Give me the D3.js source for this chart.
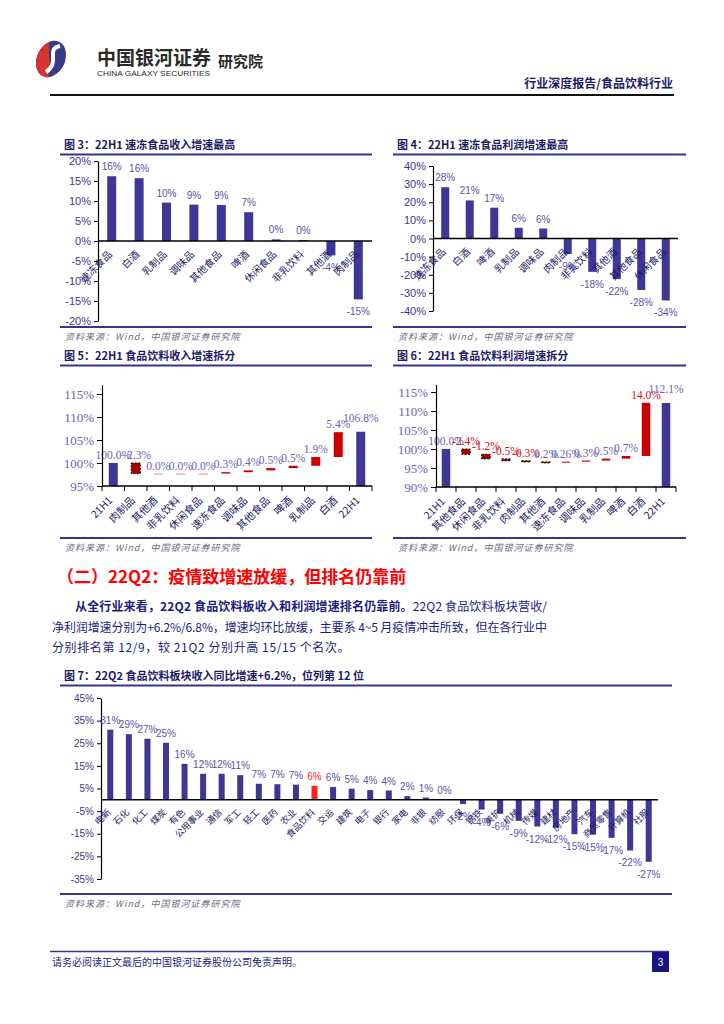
<!DOCTYPE html>
<html><head><meta charset="utf-8">
<script src="https://cdn.jsdelivr.net/npm/d3@7"></script>
<style>body{margin:0;background:#fff}svg{display:block}</style>
</head><body>
<svg id="c" width="724" height="1024"></svg>
<script>
// ---------- DATA ----------
const fig3Cats = ["速冻食品","白酒","乳制品","调味品","其他食品","啤酒","休闲食品","非乳饮料","其他酒","肉制品"];
const fig3Vals = [16.2, 15.7, 9.6, 9.1, 9.0, 7.2, 0.4, 0.2, -3.6, -14.6];
const fig3Ticks = [-20, -15, -10, -5, 0, 5, 10, 15, 20];

const fig4Cats = ["速冻食品","白酒","啤酒","乳制品","调味品","肉制品","非乳饮料","其他酒","其他食品","休闲食品"];
const fig4Vals = [28.3, 21.0, 17.0, 5.9, 5.5, -8.6, -18.4, -22.4, -28.4, -34.2];
const fig4Ticks = [-40, -30, -20, -10, 0, 10, 20, 30, 40];

const fig5Cats = ["21H1","肉制品","其他酒","非乳饮料","休闲食品","速冻食品","调味品","其他食品","啤酒","乳制品","白酒","22H1"];
const fig5Start = 100.0;
const fig5Deltas = [-2.3, 0.0, 0.0, 0.0, 0.3, 0.4, 0.5, 0.5, 1.9, 5.4];
const fig5End = 106.8;
const fig5Ticks = [95, 100, 105, 110, 115];

const fig6Cats = ["21H1","其他食品","休闲食品","非乳饮料","肉制品","其他酒","速冻食品","调味品","乳制品","啤酒","白酒","22H1"];
const fig6Start = 100.0;
const fig6Deltas = [-1.4, -1.2, -0.5, -0.3, -0.2, 0.26, 0.3, 0.5, 0.7, 14.0];
const fig6DeltaLabels = ["-2.4%","-1.2%","-0.5%","-0.3%","0.2%","0.26%","0.3%","0.5%","0.7%","14.0%"];
const fig6End = 112.1;
const fig6Ticks = [90, 95, 100, 105, 110, 115];

const fig7Cats = ["电新","石化","化工","煤炭","有色","公用事业","通信","军工","轻工","医药","农业","食品饮料","交运","建筑","电子","银行","家电","非银","纺服","环保","钢铁","美护","机械","传媒","建材","房地产","汽车","商贸零售","计算机","社服"];
const fig7Vals = [31.0, 29.0, 27.0, 25.2, 15.9, 11.5, 11.5, 10.9, 7.1, 6.9, 6.7, 6.2, 5.7, 4.9, 4.3, 4.1, 1.6, 1.0, 0.1, -1.9, -4.3, -6.2, -9.3, -11.8, -12.2, -15.2, -15.4, -16.8, -22.4, -27.4];
const fig7Ticks = [-35, -25, -15, -5, 5, 15, 25, 35, 45];
const fig7Highlight = "食品饮料";

// ---------- STYLE ----------
const svg = d3.select("#c");
const F_CJK = "'Noto Sans CJK SC','Noto Sans',sans-serif";
const F_SANS = "'Liberation Sans',Arial,sans-serif";
const F_SERIF = "'Liberation Serif','Times New Roman',serif";
const BAR = "#3f3695";
const RULE = "#38338f";
const LAV = "#5a52a8";
const NAVY = "#1d1a68";
const RED = "#cc0000";

// ---------- HEADER ----------
const defs = svg.append("defs");
defs.append("clipPath").attr("id","logoClip").append("ellipse")
  .attr("cx",0).attr("cy",0).attr("rx",14).attr("ry",19).attr("transform","rotate(25)");
const logo = svg.append("g").attr("transform","translate(51,59)");
const lg = logo.append("g").attr("clip-path","url(#logoClip)");
lg.append("rect").attr("x",-25).attr("y",-25).attr("width",50).attr("height",50).attr("fill","#3b3a8a");
lg.append("path").attr("d","M-25,-25 L4,-25 C-10,-12 6,4 -6,25 L-25,25 Z").attr("fill","#d6352d");
lg.append("path").attr("d","M9,-13 C-6,-10 10,3 -5,13").attr("fill","none").attr("stroke","#fff").attr("stroke-width",4);
svg.append("text").attr("x",97).attr("y",65).text("中国银河证券")
  .attr("font-family",F_CJK).attr("font-size",19).attr("font-weight",700).attr("fill","#2a2a2a")
  .attr("textLength",114).attr("lengthAdjust","spacingAndGlyphs");
svg.append("text").attr("x",97).attr("y",76).text("CHINA GALAXY SECURITIES")
  .attr("font-family",F_SANS).attr("font-size",8).attr("fill","#2a2a2a")
  .attr("textLength",113).attr("lengthAdjust","spacingAndGlyphs");
svg.append("text").attr("x",218).attr("y",67).text("研究院")
  .attr("font-family",F_CJK).attr("font-size",15).attr("font-weight",700).attr("fill","#2a2a2a");
svg.append("text").attr("x",673).attr("y",88).attr("text-anchor","end").text("行业深度报告/食品饮料行业")
  .attr("font-family",F_CJK).attr("font-size",12).attr("font-weight",700).attr("fill",NAVY);
svg.append("line").attr("x1",50).attr("x2",674).attr("y1",95).attr("y2",95).attr("stroke","#111").attr("stroke-width",2);

// ---------- FRAME HELPER ----------
function frame(x0, x1, titleY, title, bottomY) {
  svg.append("text").attr("x",x0+4).attr("y",titleY).text(title)
    .attr("font-family",F_CJK).attr("font-size",11).attr("font-weight",700).attr("fill",NAVY);
  svg.append("line").attr("x1",x0).attr("x2",x1).attr("y1",titleY+5.5).attr("y2",titleY+5.5)
    .attr("stroke",RULE).attr("stroke-width",2);
  svg.append("line").attr("x1",x0).attr("x2",x1).attr("y1",bottomY).attr("y2",bottomY)
    .attr("stroke",RULE).attr("stroke-width",2);
  svg.append("text").attr("x",x0+5).attr("y",bottomY+13).text("资料来源：Wind，中国银河证券研究院")
    .attr("font-family",F_CJK).attr("font-size",9).attr("font-style","italic").attr("fill","#6a6a80")
    .attr("letter-spacing",1);
}

function styleAxis(g, font, size, color) {
  g.select(".domain").attr("stroke","#000").attr("stroke-width",1.2);
  g.selectAll(".tick line").attr("stroke","#000");
  g.selectAll(".tick text").attr("font-family",font).attr("font-size",size).attr("fill",color);
}

// ---------- BAR CHART ----------
function barChart(o) {
  const x = d3.scaleBand().domain(o.cats).range([o.axisX, o.xEnd]);
  const step = (o.xEnd - o.axisX) / o.cats.length;
  const p = 1 - o.bw / step;
  x.paddingInner(p).paddingOuter(p/2);
  const y = d3.scaleLinear().domain(o.domain).range([o.yBot, o.yTop]);
  const ax = svg.append("g").attr("transform",`translate(${o.axisX},0)`)
    .call(d3.axisLeft(y).tickValues(o.ticks).tickSize(4).tickSizeOuter(0).tickPadding(3).tickFormat(d => d + "%"));
  styleAxis(ax, F_SANS, o.tickSize, o.tickColor);
  const y0 = y(0);
  o.cats.forEach((c, i) => {
    const v = o.vals[i];
    const isHi = o.highlight && c === o.highlight;
    svg.append("rect").attr("x",x(c)).attr("width",x.bandwidth())
      .attr("y",Math.min(y(v),y0)).attr("height",Math.abs(y(v)-y0))
      .attr("fill", isHi ? "#ff2020" : BAR);
    const cx = x(c) + x.bandwidth()/2;
    svg.append("text").attr("x",cx).attr("y", v >= 0 ? y(v) - o.labelGap : y(v) + o.labelGap + o.valSize)
      .attr("text-anchor","middle").text(Math.round(v) + "%")
      .attr("font-family",F_SANS).attr("font-size",o.valSize).attr("fill", isHi ? "#ff2020" : LAV);
    svg.append("text").attr("transform",`translate(${cx + o.catDx},${y0 + o.catDy}) rotate(-45)`)
      .attr("text-anchor","end").text(c)
      .attr("font-family",F_CJK).attr("font-size",o.catSize).attr("fill",NAVY);
  });
  svg.append("line").attr("x1",o.axisX).attr("x2",o.xEnd).attr("y1",y0).attr("y2",y0)
    .attr("stroke","#000").attr("stroke-width",1.5);
}

// ---------- WATERFALL ----------
function waterfall(o) {
  const x = d3.scaleBand().domain(o.cats).range([o.axisX, o.xEnd]);
  const step = (o.xEnd - o.axisX) / o.cats.length;
  const p = 1 - o.bw / step;
  x.paddingInner(p).paddingOuter(p/2);
  const y = d3.scaleLinear().domain(o.domain).range([o.yBot, o.yTop]);
  const base = o.domain[0];
  const segs = [];
  segs.push({c:o.cats[0], lo:base, hi:o.start, type:"total", label: d3.format(".1f")(o.start)+"%"});
  let cum = o.start;
  o.deltas.forEach((d, i) => {
    const a = cum, b = cum + d;
    segs.push({c:o.cats[i+1], lo:Math.min(a,b), hi:Math.max(a,b), d, type:"delta",
      label: o.labels ? o.labels[i] : d3.format(".1f")(d)+"%"});
    cum = b;
  });
  segs.push({c:o.cats[o.cats.length-1], lo:base, hi:o.end, type:"total", label: d3.format(".1f")(o.end)+"%"});

  segs.forEach((s, i) => {
    const h = Math.max(y(s.lo) - y(s.hi), 1);
    const r = svg.append("rect").attr("x",x(s.c)).attr("width",x.bandwidth())
      .attr("y", y(s.hi)).attr("height", h);
    if (s.type === "total") r.attr("fill",BAR);
    else if (s.d < 0) r.attr("fill","#a80000").attr("stroke","#000").attr("stroke-dasharray","2,1.5").attr("stroke-width",1);
    else if (s.d === 0) r.attr("fill","#f08080");
    else r.attr("fill",RED);
    const isRed = s.type === "delta" && (s.label.startsWith("-") || s.d > 10);
    const isLast = i === segs.length - 1;
    svg.append("text").attr("x", x(s.c) + x.bandwidth()/2).attr("y", y(s.hi) - (isLast ? 10 : 4))
      .attr("text-anchor","middle").text(s.label)
      .attr("font-family",F_SERIF).attr("font-size",11.5).attr("fill", isRed ? "#d01010" : "#6a62b8");
    const cx = x(s.c) + x.bandwidth()/2;
    svg.append("text").attr("transform",`translate(${cx + o.catDx},${o.yBot + o.catDy}) rotate(-45)`)
      .attr("text-anchor","end").text(s.c)
      .attr("font-family",F_CJK).attr("font-size",10.5).attr("fill",NAVY);
  });
  const ax = svg.append("g").attr("transform",`translate(${o.axisX},0)`)
    .call(d3.axisLeft(y).tickValues(o.ticks).tickSize(5).tickSizeOuter(0).tickPadding(3).tickFormat(d => d + "%"));
  styleAxis(ax, F_SERIF, 13, "#6a62b8");
  svg.append("line").attr("x1",o.axisX).attr("x2",o.xEnd).attr("y1",o.yBot).attr("y2",o.yBot)
    .attr("stroke","#000").attr("stroke-width",1.5);
  d3.range(o.cats.length + 1).forEach(i => {
    const xx = o.axisX + i * step;
    svg.append("line").attr("x1",xx).attr("x2",xx).attr("y1",o.yBot).attr("y2",o.yBot+5)
      .attr("stroke","#000").attr("stroke-width",1);
  });
}

// ---------- FIG 3 ----------
frame(60, 372, 149, "图 3：22H1 速冻食品收入增速最高", 327);
barChart({cats:fig3Cats, vals:fig3Vals, ticks:fig3Ticks, domain:[-20,20], yTop:161, yBot:321,
  axisX:98, xEnd:372, bw:9, tickSize:11, tickColor:"#3d3590", valSize:10, labelGap:6,
  catSize:10, catDx:1, catDy:14});

// ---------- FIG 4 ----------
frame(393, 686, 149, "图 4：22H1 速冻食品利润增速最高", 327);
barChart({cats:fig4Cats, vals:fig4Vals, ticks:fig4Ticks, domain:[-40,40], yTop:166, yBot:311,
  axisX:433, xEnd:678, bw:8, tickSize:11, tickColor:"#3d3590", valSize:10, labelGap:6,
  catSize:10, catDx:1, catDy:14});

// ---------- FIG 5 ----------
frame(60, 372, 360, "图 5：22H1 食品饮料收入增速拆分", 538);
waterfall({cats:fig5Cats, start:fig5Start, deltas:fig5Deltas, end:fig5End, ticks:fig5Ticks,
  domain:[95,117], yTop:384.8, yBot:486, axisX:102, xEnd:372, bw:9, catDx:0, catDy:15});

// ---------- FIG 6 ----------
frame(393, 686, 360, "图 6：22H1 食品饮料利润增速拆分", 538);
waterfall({cats:fig6Cats, start:fig6Start, deltas:fig6Deltas, labels:fig6DeltaLabels, end:fig6End, ticks:fig6Ticks,
  domain:[90,117], yTop:384.4, yBot:487, axisX:436, xEnd:676, bw:8.5, catDx:0, catDy:15});

// ---------- TEXT ----------
svg.append("text").attr("x",57).attr("y",583).text("（二）22Q2：疫情致增速放缓，但排名仍靠前")
  .attr("font-family",F_CJK).attr("font-size",17).attr("font-weight",700).attr("fill","#ff0000");
const p1 = svg.append("text").attr("x",75).attr("y",611).attr("font-family",F_CJK).attr("font-size",12).attr("fill","#1c1c80")
  .attr("textLength",472).attr("lengthAdjust","spacing");
p1.append("tspan").attr("font-weight",700).text("从全行业来看，22Q2 食品饮料板收入和利润增速排名仍靠前。");
p1.append("tspan").text("22Q2 食品饮料板块营收/");
svg.append("text").attr("x",52).attr("y",632).text("净利润增速分别为+6.2%/6.8%，增速均环比放缓，主要系 4~5 月疫情冲击所致，但在各行业中")
  .attr("font-family",F_CJK).attr("font-size",12).attr("fill","#1c1c80").attr("textLength",495).attr("lengthAdjust","spacing");
svg.append("text").attr("x",52).attr("y",652).text("分别排名第 12/9，较 21Q2 分别升高 15/15 个名次。")
  .attr("font-family",F_CJK).attr("font-size",12).attr("fill","#1c1c80").attr("letter-spacing",0.6);

// ---------- FIG 7 ----------
frame(60, 672, 680, "图 7：22Q2 食品饮料板块收入同比增速+6.2%，位列第 12 位", 894);
barChart({cats:fig7Cats, vals:fig7Vals, ticks:fig7Ticks, domain:[-35,45], yTop:698, yBot:879,
  axisX:101, xEnd:658, bw:6, tickSize:10, tickColor:"#3d3590", valSize:10, labelGap:6,
  catSize:9, catDx:1, catDy:13, highlight:fig7Highlight});

// ---------- FOOTER ----------
svg.append("line").attr("x1",50).attr("x2",669).attr("y1",951.5).attr("y2",951.5).attr("stroke",RULE).attr("stroke-width",1.5);
svg.append("text").attr("x",52).attr("y",966).text("请务必阅读正文最后的中国银河证券股份公司免责声明。")
  .attr("font-family",F_CJK).attr("font-size",10).attr("fill","#1c1c80");
svg.append("rect").attr("x",652).attr("y",952).attr("width",17).attr("height",20).attr("fill","#1a1480");
svg.append("text").attr("x",660.5).attr("y",966).attr("text-anchor","middle").text("3")
  .attr("font-family",F_SANS).attr("font-size",10).attr("fill","#fff");
</script>
</body></html>
